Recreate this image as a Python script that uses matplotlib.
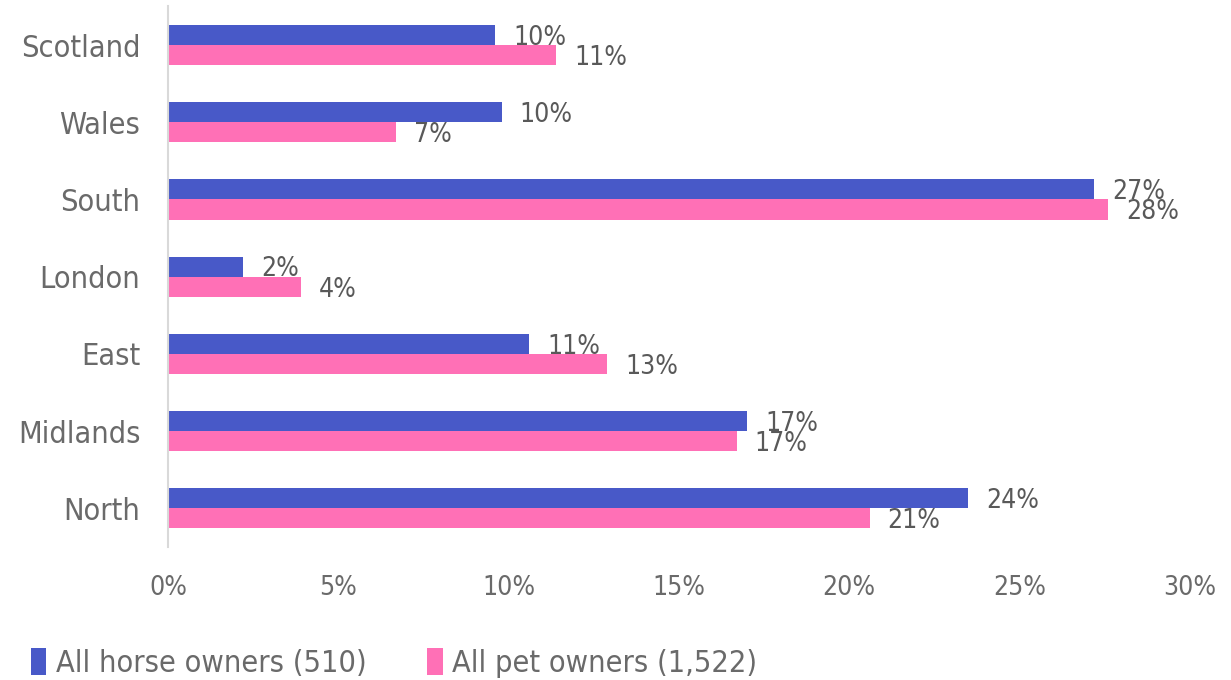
import numpy as np
import matplotlib.pyplot as plt

# regions listed top to bottom
regions = ["Scotland", "Wales", "South", "London", "East", "Midlands", "North"]
horse_owners = [9.6, 9.8, 27.2, 2.2, 10.6, 17.0, 23.5]
pet_owners = [11.4, 6.7, 27.6, 3.9, 12.9, 16.7, 20.6]
series_names = ["All horse owners (510)", "All pet owners (1,522)"]
xticks = [0, 5, 10, 15, 20, 25, 30]

horse_color = "#4859C8"
pet_color = "#FF70B6"
text_color = "#595959"
axis_text = "#6A6A6A"

plt.rcParams["font.family"] = ["DejaVu Sans"]
plt.rcParams["font.stretch"] = "condensed"

fig = plt.figure(figsize=(12.31, 6.8), dpi=100)
ax = fig.add_axes([0.1365, 0.1956, 0.830, 0.795])

y = np.arange(len(regions))
h = 0.26
bh = ax.barh(y - h / 2, horse_owners, height=h, color=horse_color, label=series_names[0])
bp = ax.barh(y + h / 2, pet_owners, height=h, color=pet_color, label=series_names[1])

# value labels just past the end of each bar
for bars, vals in ((bh, horse_owners), (bp, pet_owners)):
    for rect, v in zip(bars, vals):
        ax.annotate(f"{v:.0f}%", (v, rect.get_y() + rect.get_height() / 2),
                    xytext=(13, -2), textcoords="offset points",
                    ha="left", va="center", fontsize=19, color=text_color)

ax.set_ylim(len(regions) - 0.5, -0.5)
ax.set_xlim(0, 30)
ax.set_yticks(y)
ax.set_yticklabels(regions, fontsize=22)
ax.set_xticks(xticks)
ax.set_xticklabels([f"{t}%" for t in xticks], fontsize=19)
ax.tick_params(length=0, colors=axis_text)
ax.tick_params(axis="y", pad=20)
ax.tick_params(axis="x", pad=20)

for side in ("top", "right", "bottom"):
    ax.spines[side].set_visible(False)
ax.spines["left"].set_color("#D9D9D9")
ax.spines["left"].set_linewidth(1.5)

fig.legend(loc="center left", bbox_to_anchor=(0.003, 0.025), ncol=2, frameon=False,
           fontsize=22, labelcolor=axis_text, handlelength=0.5, handleheight=1.0,
           handletextpad=0.3, columnspacing=2.0)

fig.savefig("out.png", dpi=100)
